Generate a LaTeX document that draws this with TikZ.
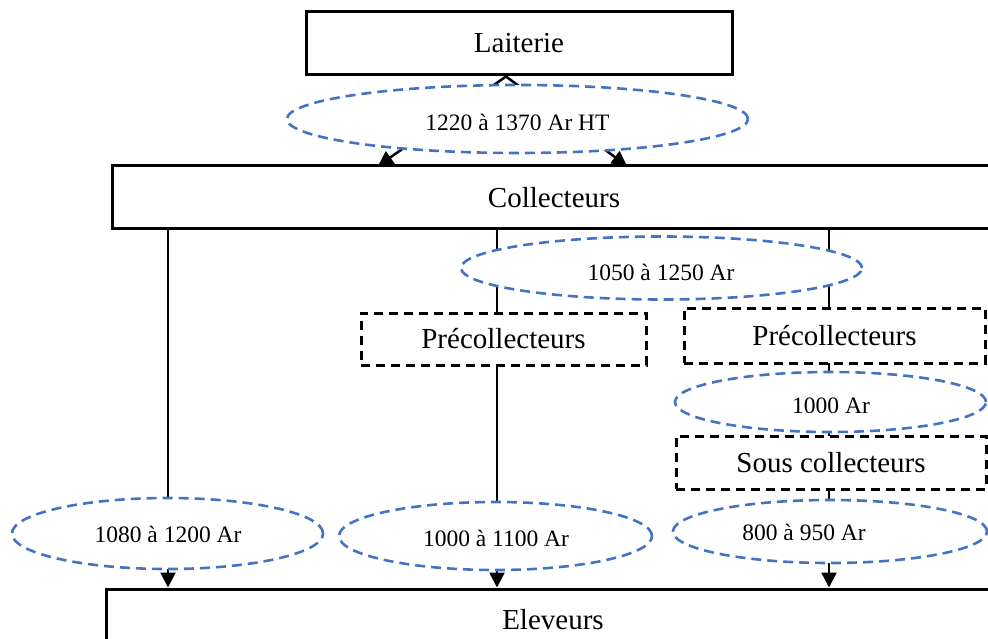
\documentclass[tikz,border=0pt]{standalone}
\usepackage{fontspec}
\setmainfont{Liberation Serif}
\usetikzlibrary{arrows.meta,shapes.geometric}
\definecolor{dashblue}{HTML}{4472C4}
\begin{document}
\begin{tikzpicture}[x=1pt,y=-1pt,
  box/.style={draw=black,line width=3pt,fill=white,rectangle,inner sep=0pt,
    font=\fontsize{29}{34}\selectfont},
  dbox/.style={box,dash pattern=on 9pt off 6pt},
  ell/.style={draw=dashblue,line width=2.6pt,dash pattern=on 10pt off 6pt,
    fill=white,ellipse,inner sep=0pt},
  lbl/.style={inner sep=0pt,font=\fontsize{23.5}{28}\selectfont},
  link/.style={line width=2.5pt,-{Triangle[length=15pt,width=15pt]}}
]
\useasboundingbox (0,0) rectangle (988,639);
\clip (0,0) rectangle (988,639);

% main boxes
\node[box,minimum width=426pt,minimum height=63pt] (laiterie) at (519,43.5) {Laiterie};
\node[box,minimum width=884pt,minimum height=63pt] (collecteurs) at (554,197.5) {Collecteurs};
\node[box,minimum width=894pt,minimum height=62pt] (eleveurs) at (553,620) {Eleveurs};

% anchor points for the connectors
\coordinate (split) at (506,75);
\coordinate (tipL) at (378,166);
\coordinate (tipR) at (627,166);
\coordinate (col1) at (168,0);
\coordinate (col2) at (497,0);
\coordinate (col3) at (829,0);

% connectors
\draw[link] (laiterie.south -| split) -- (tipL);
\draw[link] (laiterie.south -| split) -- (tipR);
\draw[link] (collecteurs.south -| col1) -- (eleveurs.north -| col1);
\draw[link] (collecteurs.south -| col2) -- (eleveurs.north -| col2);
\draw[link] (collecteurs.south -| col3) -- (eleveurs.north -| col3);

% price ellipses
\node[ell,minimum width=461pt,minimum height=68pt] (e1) at (517.5,119) {};
\node[ell,minimum width=401pt,minimum height=63pt] (e2) at (661.5,268) {};
\node[ell,minimum width=311pt,minimum height=60pt] (e3) at (830.5,402) {};
\node[ell,minimum width=314pt,minimum height=63pt] (e4) at (830,531.5) {};
\node[ell,minimum width=311pt,minimum height=71pt] (e5) at (167.5,533.5) {};
\node[ell,minimum width=313pt,minimum height=68pt] (e6) at (495.5,536) {};

% intermediate (dashed) boxes
\node[dbox,minimum width=285pt,minimum height=52pt] (pre1) at (503.5,339) {Précollecteurs};
\node[dbox,minimum width=301pt,minimum height=55pt] (pre2) at (834.5,335.5) {Précollecteurs};
\node[dbox,minimum width=310pt,minimum height=53pt] (sous) at (831,462.5) {Sous collecteurs};

% prices
\node[lbl] (t1) at (517.5,122) {1220 à 1370 Ar HT};
\node[lbl] (t2) at (661,272) {1050 à 1250 Ar};
\begin{scope}
  \clip (660,380) rectangle (990,412);
  \node[lbl] (t3) at (831,406) {1000 Ar};
\end{scope}
\node[lbl] (t4) at (804,532.5) {800 à 950 Ar};
\node[lbl] (t5) at (168,534.5) {1080 à 1200 Ar};
\node[lbl] (t6) at (496,538.5) {1000 à 1100 Ar};
\end{tikzpicture}
\end{document}
